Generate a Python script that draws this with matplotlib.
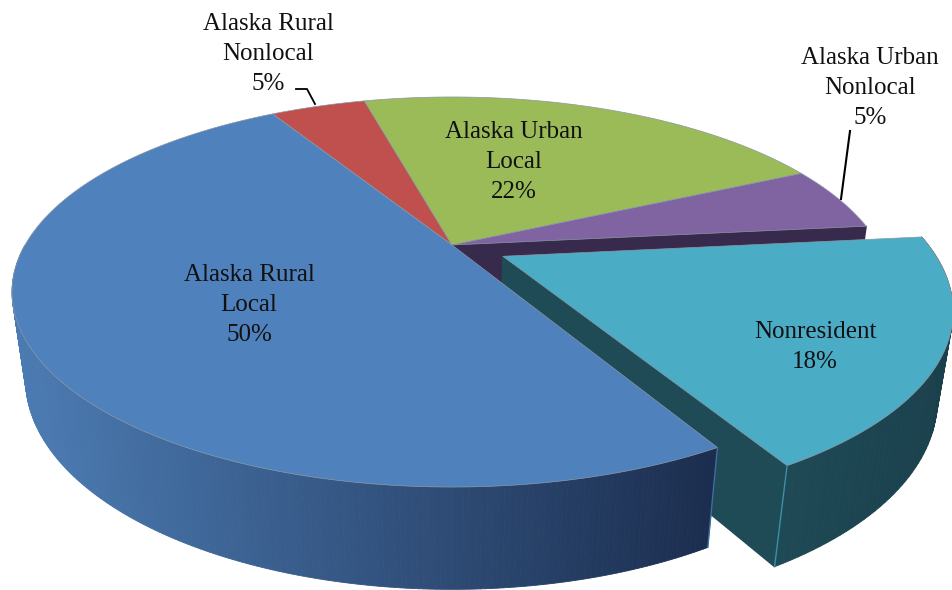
import numpy as np
import matplotlib
matplotlib.use("Agg")
import matplotlib.pyplot as plt

# Slices, clockwise from the start angle (shares)
categories = ["Alaska Rural\nLocal", "Alaska Rural\nNonlocal", "Alaska Urban\nLocal",
              "Alaska Urban\nNonlocal", "Nonresident"]
shares = [49.7, 4.4, 22.0, 5.4, 18.5]
percent_labels = ["50%", "5%", "22%", "5%", "18%"]

top_colors = ["#4f81bd", "#c0504d", "#9bbb59", "#8064a2", "#4bacc6"]

# Projection of the tilted disc into pixels
cx, cy = 452, 245
a, b = 427, 183.7
k = 0.241      # perspective
d = 88         # extrusion
q = 0.03
start_angle = 120.5
explode = 0.132


def project(x, y, z=0.0):
    w = 1 + k * y + q * z
    return cx + a * x / w, cy + (-b * y + d * z) / w


def blend(c1, c2, t):
    c1, c2 = np.array(c1), np.array(c2)
    return tuple((c1 + (c2 - c1) * t) / 255)


def rim(t1, t2, n=120):
    return np.radians(np.linspace(t1, t2, n))


def draw_wall(angles, ox, oy, color_left, color_right, x_left, x_right):
    # outer wall as many thin quads, shaded along x
    for t1, t2 in zip(angles[:-1], angles[1:]):
        xs, ys = [], []
        for t, z in [(t1, 0), (t2, 0), (t2, 1), (t1, 1)]:
            px, py = project(np.cos(t) + ox, np.sin(t) + oy, z)
            xs.append(px)
            ys.append(py)
        f = np.clip((np.mean(xs) - x_left) / (x_right - x_left), 0, 1)
        c = blend(color_left, color_right, f)
        ax.fill(xs, ys, color=c, lw=0.6, zorder=z_now)


def draw_top(angles, ox, oy, color):
    xs, ys = project(np.append(np.cos(angles) + ox, ox), np.append(np.sin(angles) + oy, oy))
    ax.fill(xs, ys, facecolor=color, edgecolor="#8a97a5", lw=0.5, zorder=z_now + 1)


fig = plt.figure(figsize=(9.53, 5.90), dpi=100)
ax = fig.add_axes([0, 0, 1, 1])
ax.set_xlim(0, 953)
ax.set_ylim(590, 0)
ax.axis("off")

# slice limits in degrees, the first slice runs counterclockwise from the start,
# the others clockwise
blue_to = start_angle + shares[0] * 3.6
red = (start_angle, start_angle - shares[1] * 3.6)
green = (red[1], red[1] - shares[2] * 3.6)
purple = (green[1], green[1] - shares[3] * 3.6)
teal = (purple[1], purple[1] - shares[4] * 3.6)

z_now = 1
# cut face of the purple slice, seen through the gap
t = np.radians(purple[1])
fx, fy = project(np.array([0, np.cos(t), np.cos(t), 0]), np.array([0, np.sin(t), np.sin(t), 0]),
                 np.array([0, 0, 1, 1]))
ax.fill(fx, fy, color="#372a4c", zorder=z_now)
draw_top(rim(*red), 0, 0, top_colors[1])
draw_top(rim(*green), 0, 0, top_colors[2])
draw_top(rim(*purple), 0, 0, top_colors[3])

# exploded slice
z_now = 3
mid = np.radians((teal[0] + teal[1]) / 2)
ox, oy = explode * np.cos(mid), explode * np.sin(mid)
t = np.radians(teal[1])
fx, fy = project(np.array([ox, ox + np.cos(t), ox + np.cos(t), ox]),
                 np.array([oy, oy + np.sin(t), oy + np.sin(t), oy]),
                 np.array([0, 0, 1, 1]))
ax.fill(fx, fy, color="#1f4b57", zorder=z_now)
draw_wall(rim(teal[1], teal[0], 60), ox, oy, (30, 74, 86), (26, 64, 76), 780, 950)
draw_top(rim(*teal), ox, oy, top_colors[4])
px, py = project(np.array([ox + np.cos(t)] * 2), np.array([oy + np.sin(t)] * 2), np.array([0, 1]))
ax.plot(px, py, color="#3f8ea3", lw=1.0, zorder=z_now + 1)

# big slice goes last, it sits in front of the exploded wall
z_now = 6
draw_wall(rim(180, blue_to, 200), 0, 0, (76, 124, 180), (27, 45, 78), 15, 715)
draw_top(rim(start_angle, blue_to, 240), 0, 0, top_colors[0])
t = np.radians(blue_to)
px, py = project(np.array([np.cos(t)] * 2), np.array([np.sin(t)] * 2), np.array([0, 1]))
ax.plot(px, py, color="#3f6f9f", lw=1.0, zorder=z_now + 1)

# leader lines
ax.plot([296, 307, 315], [89, 89, 104], color="black", lw=1.3, zorder=10)
ax.plot([850, 841], [131, 199], color="black", lw=1.5, zorder=10)

# labels
label_x = [249, 268, 514, 870, 815]
label_y = [305, 54, 162, 88, 347]
for name, pct, lx, ly in zip(categories, percent_labels, label_x, label_y):
    ax.text(lx, ly, name + "\n" + pct, ha="center", va="center", family="Liberation Serif",
            fontsize=18, linespacing=1.45, color="#111111", zorder=11)

fig.savefig("out.png", dpi=100)
